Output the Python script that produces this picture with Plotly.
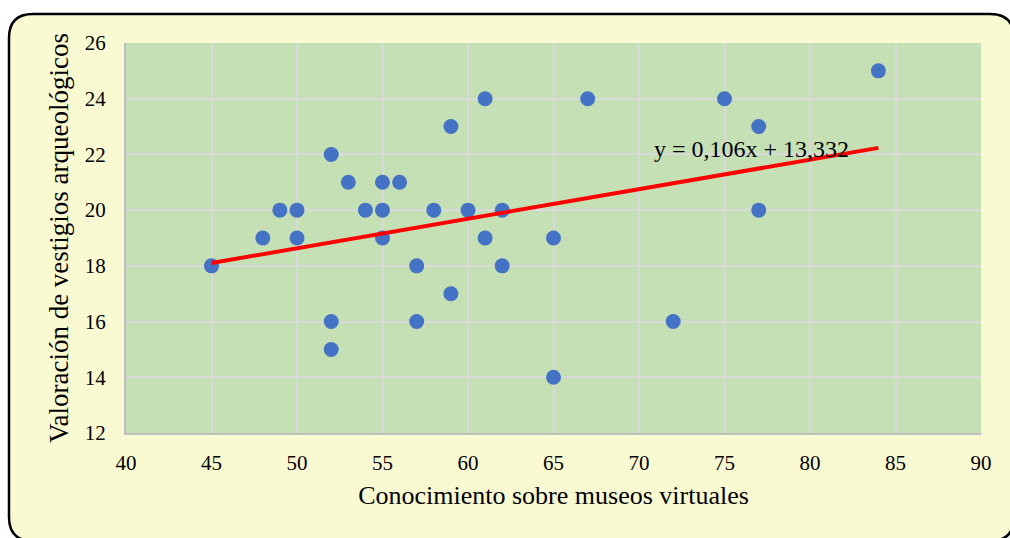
import plotly.graph_objects as go

conocimiento = [45, 48, 49, 50, 50, 52, 52, 52, 53, 54, 55, 55, 55, 56, 57, 57,
                58, 59, 59, 60, 61, 61, 62, 62, 65, 65, 67, 72, 75, 77, 77, 84]
valoracion = [18, 19, 20, 20, 19, 22, 16, 15, 21, 20, 21, 20, 19, 21, 18, 16,
              20, 23, 17, 20, 24, 19, 20, 18, 19, 14, 24, 16, 24, 23, 20, 25]
slope = 0.106
intercept = 13.332
equation_label = "y = 0,106x + 13,332"
x_ticks = [40, 45, 50, 55, 60, 65, 70, 75, 80, 85, 90]
y_ticks = [12, 14, 16, 18, 20, 22, 24, 26]

W, H = 1010, 538
L, R, T, B = 126, 29, 43, 105
pw, ph = W - L - R, H - T - B

def px(x):
    return (x - L) / pw

def py(y):
    return (H - B - y) / ph

fig = go.Figure()
fig.add_trace(go.Scatter(
    x=conocimiento, y=valoracion, mode="markers",
    marker=dict(color="#4472C4", size=15), showlegend=False, hoverinfo="x+y"))

tx = [min(conocimiento), max(conocimiento)]
ty = [slope * v + intercept for v in tx]
fig.add_trace(go.Scatter(x=tx, y=ty, mode="lines",
                         line=dict(color="#FF0000", width=4), showlegend=False))

# rounded border
x0, x1, y0, y1, r = 9, 1014, 14, 541, 24
path = (f"M {px(x0+r)} {py(y0)} L {px(x1-r)} {py(y0)} "
        f"Q {px(x1)} {py(y0)} {px(x1)} {py(y0+r)} "
        f"L {px(x1)} {py(y1-r)} Q {px(x1)} {py(y1)} {px(x1-r)} {py(y1)} "
        f"L {px(x0+r)} {py(y1)} Q {px(x0)} {py(y1)} {px(x0)} {py(y1-r)} "
        f"L {px(x0)} {py(y0+r)} Q {px(x0)} {py(y0)} {px(x0+r)} {py(y0)} Z")
fig.add_shape(type="path", path=path, xref="paper", yref="paper",
              fillcolor="#FAFAD2", line=dict(color="black", width=2.5), layer="below")
fig.add_shape(type="rect", x0=0, x1=1, y0=0, y1=1, xref="paper", yref="paper",
              fillcolor="#C5E0B4", line=dict(width=0), layer="below")

font_family = "Liberation Serif, Times New Roman, serif"
fig.add_annotation(x=76.6, y=22.2, text=equation_label, showarrow=False,
                   font=dict(family=font_family, size=24, color="black"))

fig.update_layout(
    width=W, height=H,
    margin=dict(l=L, r=R, t=T, b=B),
    paper_bgcolor="white",
    plot_bgcolor="#C5E0B4",
    font=dict(family=font_family, size=21, color="black"),
    xaxis=dict(range=[40, 90], tickvals=x_ticks, showgrid=True, gridcolor="#D9D9D9",
               gridwidth=1.5, zeroline=False, showline=True, linecolor="#BFBFBF",
               linewidth=2, ticks="", fixedrange=True, ticklabelstandoff=10,
               title=dict(text="Conocimiento sobre museos virtuales",
                          font=dict(size=26), standoff=12)),
    yaxis=dict(range=[12, 26], tickvals=y_ticks, showgrid=True, gridcolor="#D9D9D9",
               gridwidth=1.5, zeroline=False, showline=True, linecolor="#BFBFBF",
               linewidth=2, ticks="", fixedrange=True, ticklabelstandoff=14,
               title=dict(text="Valoración de vestigios arqueológicos",
                          font=dict(size=27), standoff=8)),
)

fig.write_html("out.html", config={"displayModeBar": False},
               post_script="document.body.style.margin='0';document.body.style.overflow='hidden';")
